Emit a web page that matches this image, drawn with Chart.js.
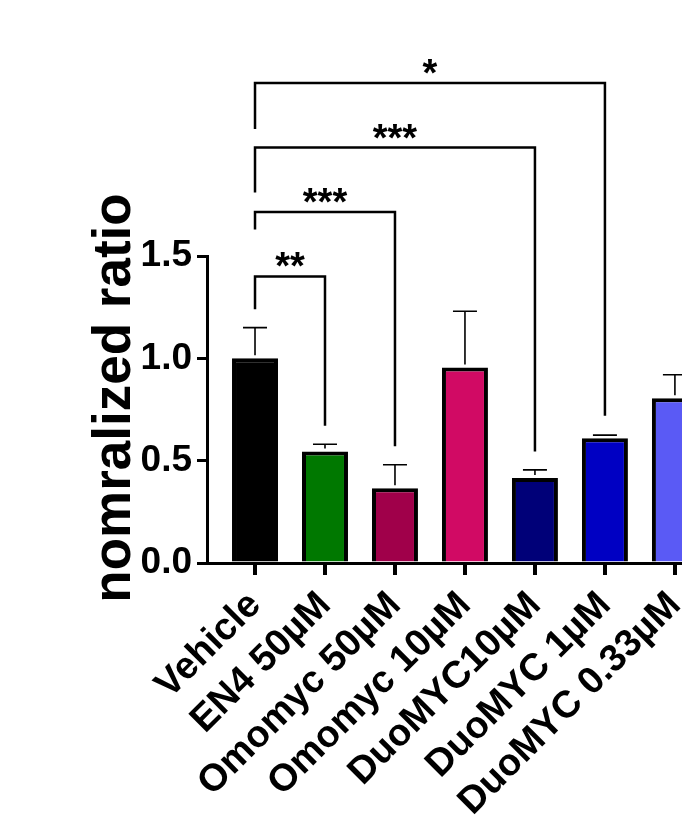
<!DOCTYPE html>
<html>
<head>
<meta charset="utf-8">
<script src="https://cdn.jsdelivr.net/npm/chart.js@4.4.1/dist/chart.umd.min.js"></script>
<style>
  html, body { margin: 0; padding: 0; background: #fff; overflow: hidden; }
  #wrap { position: absolute; left: 0; top: 0; width: 740px; height: 819px; }
</style>
</head>
<body>
<div id="wrap"><canvas id="chart"></canvas></div>
<script>
const groups = ['Vehicle', 'EN4 50µM', 'Omomyc 50µM', 'Omomyc 10µM', 'DuoMYC10µM', 'DuoMYC 1µM', 'DuoMYC 0.33µM'];
const means = [1.00, 0.545, 0.365, 0.955, 0.415, 0.61, 0.805];
const sems = [0.15, 0.035, 0.115, 0.275, 0.04, 0.015, 0.115];
const barColors = ['#000000', '#007800', '#a0004a', '#d10a64', '#000078', '#0000c3', '#5a5af5'];
const yTicks = [0, 0.5, 1.0, 1.5];
const yTitle = 'nomralized ratio';

// significance brackets, all vs Vehicle
const sigFrom = [0, 0, 0, 0];
const sigTo = [1, 2, 4, 5];
const sigLabels = ['**', '***', '***', '*'];
const sigTop = [1.40, 1.715, 2.03, 2.345];
const sigLeftEnd = [1.24, 1.63, 1.81, 2.12];
const sigRightEnd = [0.67, 0.57, 0.545, 0.72];

const FONT = '"Liberation Sans", Arial, sans-serif';

const errorBars = {
  id: 'errorBars',
  afterDatasetsDraw(chart) {
    const { ctx, scales: { x, y } } = chart;
    ctx.save();
    ctx.strokeStyle = '#000';
    ctx.lineWidth = 1.6;
    means.forEach((m, i) => {
      const px = x.getPixelForValue(i);
      const y0 = y.getPixelForValue(m);
      const y1 = y.getPixelForValue(m + sems[i]);
      ctx.beginPath();
      ctx.moveTo(px, y0 - 3);
      ctx.lineTo(px, y1);
      ctx.moveTo(px - 12, y1);
      ctx.lineTo(px + 12, y1);
      ctx.stroke();
    });
    ctx.restore();
  }
};

const brackets = {
  id: 'brackets',
  afterDraw(chart) {
    const { ctx, scales: { x, y } } = chart;
    ctx.save();
    ctx.strokeStyle = '#000';
    ctx.fillStyle = '#000';
    ctx.lineWidth = 2.5;
    ctx.font = 'bold 38px ' + FONT;
    ctx.textAlign = 'center';
    ctx.textBaseline = 'alphabetic';
    sigFrom.forEach((f, i) => {
      const xl = x.getPixelForValue(f);
      const xr = x.getPixelForValue(sigTo[i]);
      const yt = y.getPixelForValue(sigTop[i]);
      ctx.beginPath();
      ctx.moveTo(xl, y.getPixelForValue(sigLeftEnd[i]));
      ctx.lineTo(xl, yt);
      ctx.lineTo(xr, yt);
      ctx.lineTo(xr, y.getPixelForValue(sigRightEnd[i]));
      ctx.stroke();
      ctx.fillText(sigLabels[i], (xl + xr) / 2, yt + 3);
    });

    // y axis title
    ctx.font = 'bold 53px ' + FONT;
    ctx.translate(130, 398);
    ctx.rotate(-Math.PI / 2);
    ctx.fillText(yTitle, 0, 0);
    ctx.restore();
  }
};

new Chart(document.getElementById('chart'), {
  type: 'bar',
  data: {
    datasets: [{
      data: groups.map((g, i) => ({ x: i, y: means[i] })),
      backgroundColor: barColors,
      borderColor: '#000',
      borderWidth: 4,
      barPercentage: 0.657,
      categoryPercentage: 1
    }]
  },
  options: {
    responsive: true,
    maintainAspectRatio: false,
    devicePixelRatio: 1,
    animation: false,
    layout: { padding: { top: 256, left: 0, right: 0, bottom: 0 } },
    plugins: { legend: { display: false }, tooltip: { enabled: false } },
    scales: {
      x: {
        type: 'linear',
        offset: false,
        min: -0.686,
        max: 6.93,
        afterBuildTicks: s => { s.ticks = groups.map((g, i) => ({ value: i })); },
        afterFit: s => { s.height = 256; },
        border: { color: '#000', width: 3 },
        grid: { offset: false, drawOnChartArea: false, color: '#000', lineWidth: 4, tickLength: 12 },
        ticks: {
          autoSkip: false,
          maxRotation: 45,
          minRotation: 45,
          padding: 8,
          color: '#000',
          font: { family: FONT, size: 38, weight: 'bold' },
          callback: v => groups[v]
        }
      },
      y: {
        min: 0,
        max: 1.5,
        afterBuildTicks: s => { s.ticks = yTicks.map(v => ({ value: v })); },
        afterFit: s => { s.width = 207; },
        border: { color: '#000', width: 3 },
        grid: { drawOnChartArea: false, color: '#000', lineWidth: 3, tickLength: 10 },
        ticks: {
          padding: 5,
          color: '#000',
          font: { family: FONT, size: 37, weight: 'bold' },
          callback: v => v.toFixed(1)
        }
      }
    }
  },
  plugins: [errorBars, brackets]
});
</script>
</body>
</html>
